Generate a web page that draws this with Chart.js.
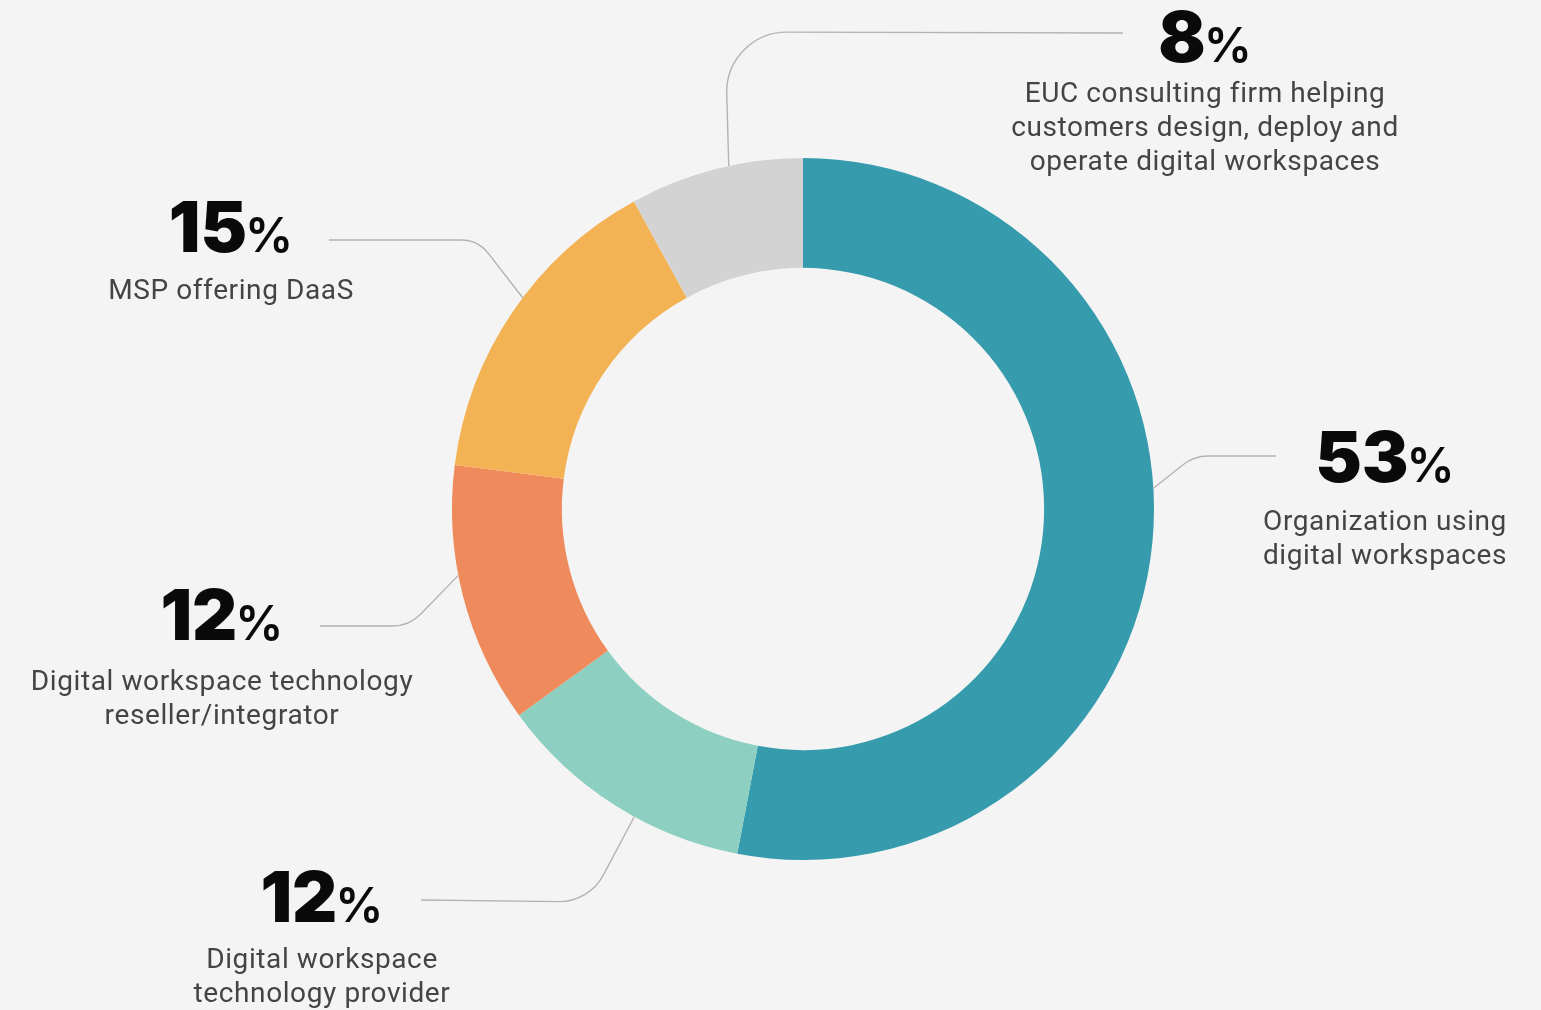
<!DOCTYPE html>
<html>
<head>
<meta charset="utf-8">
<script src="https://cdn.jsdelivr.net/npm/chart.js@4/dist/chart.umd.min.js"></script>
<style>
  html, body { margin: 0; padding: 0; background: #f4f4f4; }
  #wrap { width: 1541px; height: 1010px; }
</style>
</head>
<body>
<div id="wrap"><canvas id="chart" width="1541" height="1010"></canvas></div>
<script>
// Respondent types, clockwise from 12 o'clock
const categories = [
  ['Organization using', 'digital workspaces'],
  ['Digital workspace', 'technology provider'],
  ['Digital workspace technology', 'reseller/integrator'],
  ['MSP offering DaaS'],
  ['EUC consulting firm helping', 'customers design, deploy and', 'operate digital workspaces']
];
const shares = [53, 12, 12, 15, 8];
const sliceColors = ['#359bad', '#8dcfc1', '#ee8a5b', '#f3b354', '#d3d3d3'];

// Callout placement: where along each slice the leader starts, where it bends,
// where it stops, and where the value/caption block sits.
const callouts = [
  { frac: 0.454, knee: [1194, 456], end: [1276, 456], r: 40, cx: 1385, numY: 482, textY: 530 },
  { frac: 0.415, knee: [589, 902],  end: [421, 900],  r: 50, cx: 322,  numY: 922, textY: 968 },
  { frac: 0.581, knee: [409, 626],  end: [320, 626],  r: 40, cx: 222,  numY: 640, textY: 690 },
  { frac: 0.552, knee: [478, 240],  end: [329, 240],  r: 35, cx: 231,  numY: 252, textY: 299 },
  { frac: 0.576, knee: [725, 32],   end: [1123, 33],  r: 60, cx: 1205, numY: 62,  textY: 102 }
];

const calloutPlugin = {
  id: 'callouts',
  afterDatasetsDraw(chart) {
    const ctx = chart.ctx;
    const meta = chart.getDatasetMeta(0);
    meta.data.forEach((arc, i) => {
      const p = arc.getProps(['x', 'y', 'startAngle', 'endAngle', 'outerRadius'], true);
      const c = callouts[i];
      const a = p.startAngle + c.frac * (p.endAngle - p.startAngle);
      const ax = p.x + p.outerRadius * Math.cos(a);
      const ay = p.y + p.outerRadius * Math.sin(a);

      // leader line
      ctx.save();
      ctx.strokeStyle = '#b3b3b3';
      ctx.lineWidth = 1.4;
      ctx.beginPath();
      ctx.moveTo(ax, ay);
      ctx.arcTo(c.knee[0], c.knee[1], c.end[0], c.end[1], c.r);
      ctx.lineTo(c.end[0], c.end[1]);
      ctx.stroke();
      ctx.restore();

      // value: heavy digits followed by a lighter, smaller percent sign
      ctx.save();
      const num = String(shares[i]);
      const numFont = '900 70px Inter';
      const pctFont = '600 48px Inter';
      ctx.font = numFont;
      const wNum = ctx.measureText(num).width;
      ctx.font = pctFont;
      const wPct = ctx.measureText('%').width;
      const gap = -2;
      const x0 = c.cx - (wNum + gap + wPct) / 2;
      ctx.fillStyle = '#0a0a0a';
      ctx.textBaseline = 'alphabetic';
      ctx.textAlign = 'left';
      ctx.font = numFont;
      ctx.fillText(num, x0, c.numY);
      ctx.font = pctFont;
      ctx.fillText('%', x0 + wNum + gap, c.numY);

      // caption
      ctx.font = '400 28px Roboto';
      ctx.fillStyle = '#444444';
      ctx.textAlign = 'center';
      if ('letterSpacing' in ctx) ctx.letterSpacing = '0.6px';
      categories[i].forEach((line, k) => {
        ctx.fillText(line, c.cx, c.textY + k * 34);
      });
      ctx.restore();
    });
  }
};

new Chart(document.getElementById('chart'), {
  type: 'doughnut',
  data: {
    labels: categories.map(l => l.join(' ')),
    datasets: [{
      data: shares,
      backgroundColor: sliceColors,
      borderWidth: 0,
      hoverOffset: 0
    }]
  },
  options: {
    responsive: false,
    animation: false,
    cutout: '68.7%',
    layout: { padding: { left: 452, right: 387, top: 158, bottom: 150 } },
    plugins: { legend: { display: false }, tooltip: { enabled: false } },
    events: []
  },
  plugins: [calloutPlugin]
});
</script>
</body>
</html>
